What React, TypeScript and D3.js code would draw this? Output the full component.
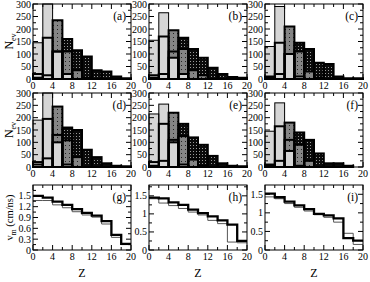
import React from 'react';
import * as d3 from 'd3';

// bins are 2 wide, from 0 to 20
const zBins = [0, 2, 4, 6, 8, 10, 12, 14, 16, 18];
const zTicks = [0, 4, 8, 12, 16, 20];
const zMinor = [2, 6, 10, 14, 18];
const nTicks = [0, 50, 100, 150, 200, 250, 300];
const nMinor = [25, 75, 125, 175, 225, 275];

const histLabels = ['(a)', '(b)', '(c)', '(d)', '(e)', '(f)'];
// light grey, thin outline
const lightThin = [
  [145, 300, 0, 0, 0, 0, 0, 0, 0, 0],
  [155, 265, 0, 0, 0, 0, 0, 0, 0, 0],
  [130, 290, 0, 0, 0, 0, 0, 0, 0, 0],
  [190, 300, 0, 0, 0, 0, 0, 0, 0, 0],
  [215, 255, 0, 0, 0, 0, 0, 0, 0, 0],
  [145, 260, 0, 0, 0, 0, 0, 0, 0, 0],
];
// light grey, thick outline
const lightThick = [
  [20, 165, 110, 20, 0, 0, 0, 0, 0, 0],
  [15, 170, 85, 20, 0, 0, 0, 0, 0, 0],
  [10, 145, 100, 10, 0, 0, 0, 0, 0, 0],
  [20, 195, 100, 10, 0, 0, 0, 0, 0, 0],
  [20, 175, 100, 10, 0, 0, 0, 0, 0, 0],
  [10, 165, 65, 5, 0, 0, 0, 0, 0, 0],
];
// medium grey, dotted
const dotted = [
  [5, 15, 235, 110, 35, 5, 0, 0, 0, 0],
  [5, 20, 195, 120, 35, 15, 0, 0, 0, 0],
  [5, 20, 210, 110, 30, 5, 0, 0, 0, 0],
  [10, 35, 245, 108, 40, 0, 0, 0, 0, 0],
  [5, 25, 220, 125, 30, 5, 0, 0, 0, 0],
  [5, 25, 180, 90, 25, 0, 0, 0, 0, 0],
];
// dark, checkered
const checked = [
  [0, 0, 110, 160, 115, 90, 35, 30, 10, 3],
  [0, 0, 110, 165, 120, 85, 45, 20, 8, 5],
  [0, 0, 100, 145, 120, 65, 60, 10, 3, 3],
  [0, 0, 130, 160, 150, 70, 40, 15, 5, 3],
  [0, 0, 110, 175, 120, 90, 45, 15, 5, 3],
  [0, 0, 110, 140, 110, 55, 15, 15, 5, 0],
];

const velLabels = ['(g)', '(h)', '(i)'];
const velMax = [1.8, 1.8, 1.75];
const velTicks = [
  [0, 0.3, 0.6, 0.9, 1.2, 1.5],
  [0, 0.5, 1, 1.5],
  [0, 0.5, 1, 1.5],
];
const velMinor = [
  [0.15, 0.45, 0.75, 1.05, 1.35, 1.65],
  [0.25, 0.75, 1.25, 1.75],
  [0.25, 0.75, 1.25],
];
const velThick = [
  [1.5, 1.45, 1.34, 1.25, 1.13, 1.03, 0.95, 0.8, 0.42, 0.17],
  [1.45, 1.43, 1.32, 1.25, 1.12, 1.02, 0.93, 0.82, 0.7, 0.25],
  [1.52, 1.42, 1.3, 1.2, 1.1, 0.97, 0.93, 0.85, 0.32, 0.25],
];
const velThin = [
  [1.37, 1.37, 1.25, 1.17, 1.06, 0.97, 0.91, 0.72, 0.35, 0.15],
  [1.42, 1.3, 1.23, 1.15, 1.05, 0.97, 0.82, 0.73, 0.22, 0.2],
  [1.43, 1.38, 1.25, 1.15, 1.05, 0.95, 0.88, 0.75, 0.45, 0.15],
];

const colLeft = [33, 149, 265];
const panelW = 98;
const rowTop = [4, 93, 185];
const rowH = [75, 74, 65];
const font = 'Liberation Serif, DejaVu Serif, serif';

function Axes({ xs, ys, yTicks, yMinor, label }) {
  const [x0, x1] = xs.range();
  const [y0, y1] = ys.range();
  const tl = 5;
  const ml = 3;
  return (
    <g>
      <rect x={x0} y={y1} width={x1 - x0} height={y0 - y1} fill="none" stroke="#000" strokeWidth={1} />
      {zTicks.map(t => (
        <g key={'x' + t}>
          <line x1={xs(t)} x2={xs(t)} y1={y0} y2={y0 - tl} stroke="#000" />
          <line x1={xs(t)} x2={xs(t)} y1={y1} y2={y1 + tl} stroke="#000" />
          <text x={xs(t)} y={y0 + 10} textAnchor="middle" fontSize={10}>{t}</text>
        </g>
      ))}
      {zMinor.map(t => (
        <g key={'xm' + t}>
          <line x1={xs(t)} x2={xs(t)} y1={y0} y2={y0 - ml} stroke="#000" />
          <line x1={xs(t)} x2={xs(t)} y1={y1} y2={y1 + ml} stroke="#000" />
        </g>
      ))}
      {yTicks.map(t => (
        <g key={'y' + t}>
          <line x1={x0} x2={x0 + tl} y1={ys(t)} y2={ys(t)} stroke="#000" />
          <line x1={x1} x2={x1 - tl} y1={ys(t)} y2={ys(t)} stroke="#000" />
          <text x={x0 - 2} y={ys(t) + 3.5} textAnchor="end" fontSize={10}>{t}</text>
        </g>
      ))}
      {yMinor.map(t => (
        <g key={'ym' + t}>
          <line x1={x0} x2={x0 + ml} y1={ys(t)} y2={ys(t)} stroke="#000" />
          <line x1={x1} x2={x1 - ml} y1={ys(t)} y2={ys(t)} stroke="#000" />
        </g>
      ))}
      <text x={x1 - 5} y={y1 + 16} textAnchor="end" fontSize={11.5}>{label}</text>
    </g>
  );
}

function HistPanel({ idx }) {
  const col = idx % 3;
  const row = Math.floor(idx / 3);
  const xs = d3.scaleLinear().domain([0, 20]).range([colLeft[col], colLeft[col] + panelW]);
  const ys = d3.scaleLinear().domain([0, 300]).range([rowTop[row] + rowH[row], rowTop[row]]);
  const layers = [
    { vals: checked[idx], fill: 'url(#check)', sw: 2 },
    { vals: dotted[idx], fill: 'url(#dots)', sw: 2 },
    { vals: lightThin[idx], fill: '#d6d6d6', sw: 1 },
    { vals: lightThick[idx], fill: '#d6d6d6', sw: 2 },
  ];
  const bars = (l, k, mode) =>
    zBins.map((b, i) =>
      l.vals[i] > 0 ? (
        <rect
          key={k + '-' + i}
          x={xs(b)}
          y={ys(l.vals[i])}
          width={xs(b + 2) - xs(b)}
          height={ys(0) - ys(l.vals[i])}
          fill={mode === 'fill' ? l.fill : 'none'}
          stroke={mode === 'fill' ? 'none' : '#000'}
          strokeWidth={l.sw}
        />
      ) : null
    );
  return (
    <g>
      {layers.map((l, k) => <g key={'f' + k}>{bars(l, k, 'fill')}</g>)}
      {layers.map((l, k) => <g key={'o' + k}>{bars(l, k, 'line')}</g>)}
      <Axes xs={xs} ys={ys} yTicks={nTicks} yMinor={nMinor} label={histLabels[idx]} />
    </g>
  );
}

function VelPanel({ idx }) {
  const top = rowTop[2];
  const xs = d3.scaleLinear().domain([0, 20]).range([colLeft[idx], colLeft[idx] + panelW]);
  const ys = d3.scaleLinear().domain([0, velMax[idx]]).range([top + rowH[2], top]);
  const step = d3.line().x(d => xs(d[0])).y(d => ys(d[1])).curve(d3.curveStepAfter);
  const pts = vals => [...zBins.map((b, i) => [b, vals[i]]), [20, vals[vals.length - 1]]];
  return (
    <g>
      <path d={step(pts(velThin[idx]))} fill="none" stroke="#555" strokeWidth={1} />
      <path d={step(pts(velThick[idx]))} fill="none" stroke="#000" strokeWidth={2.3} />
      <Axes xs={xs} ys={ys} yTicks={velTicks[idx]} yMinor={velMinor[idx]} label={velLabels[idx]} />
      <text x={xs(10)} y={277} textAnchor="middle" fontSize={12}>Z</text>
    </g>
  );
}

export default function App() {
  return (
    <svg
      width={370}
      height={282}
      style={{ position: 'absolute', left: 0, top: 0, background: '#fff', fontFamily: font }}
    >
      <defs>
        <pattern id="dots" width={4} height={4} patternUnits="userSpaceOnUse">
          <rect width={4} height={4} fill="#858585" />
          <rect x={1} y={1} width={1} height={1} fill="#222" />
        </pattern>
        <pattern id="check" width={3} height={3} patternUnits="userSpaceOnUse">
          <rect width={3} height={3} fill="#0a0a0a" />
          <rect x={1} y={1} width={1} height={1} fill="#9a9a9a" />
        </pattern>
      </defs>
      {histLabels.map((_, i) => <HistPanel key={i} idx={i} />)}
      {velLabels.map((_, i) => <VelPanel key={i} idx={i} />)}
      {[0, 1].map(r => (
        <text key={r} transform={`translate(13,${rowTop[r] + rowH[r] / 2}) rotate(-90)`} textAnchor="middle" fontSize={12}>
          N<tspan fontSize={8} dy={3}>ev</tspan>
        </text>
      ))}
      <text transform={`translate(13,${rowTop[2] + rowH[2] / 2}) rotate(-90)`} textAnchor="middle" fontSize={10.5}>
        v<tspan fontSize={7.5} dy={3}>m</tspan><tspan dy={-3}> (cm/ns)</tspan>
      </text>
    </svg>
  );
}
